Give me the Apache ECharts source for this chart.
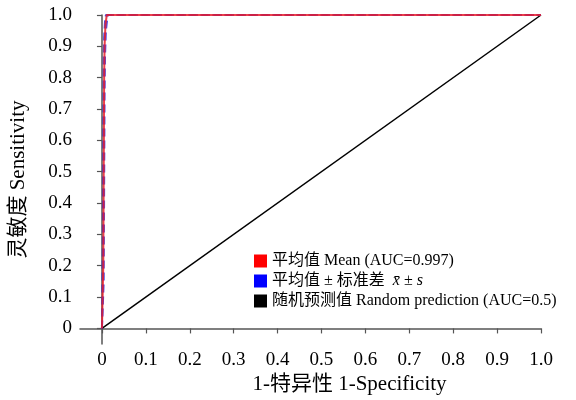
<!DOCTYPE html>
<html>
<head>
<meta charset="utf-8">
<script src="https://cdn.jsdelivr.net/npm/echarts@6/dist/echarts.min.js"></script>
<style>
  html, body { margin: 0; padding: 0; background: #fff; }
  #chart { width: 576px; height: 400px; }
</style>
</head>
<body>
<div id="chart"></div>
<script>
// ROC data
var ticks = [0, 0.1, 0.2, 0.3, 0.4, 0.5, 0.6, 0.7, 0.8, 0.9, 1.0]

var meanFpr = [0, 0.003, 0.004, 0.005, 0.006, 0.008, 0.011, 1.0]
var meanTpr = [0, 0.2, 0.5, 0.8, 0.9, 0.97, 1.0, 1.0]

var upperFpr = [0, 0.002, 0.003, 0.004, 0.005, 0.007, 0.009, 1.0]
var upperTpr = [0, 0.25, 0.55, 0.85, 0.93, 0.98, 1.0, 1.0]

var lowerFpr = [0, 0.004, 0.005, 0.006, 0.007, 0.009, 0.013, 1.0]
var lowerTpr = [0, 0.15, 0.45, 0.75, 0.87, 0.95, 1.0, 1.0]

var randFpr = [0, 1]
var randTpr = [0, 1]

var names = ['平均值 Mean (AUC=0.997)', '平均值 ± 标准差', '随机预测值 Random prediction (AUC=0.5)']

var font = "'Liberation Serif', 'Noto Sans CJK SC', serif"

function pairs(xs, ys) {
  return xs.map(function (x, i) { return [x, ys[i]] })
}

function fmt(v) {
  return v === 0 ? '0' : v.toFixed(1)
}

var axisCommon = {
  type: 'value',
  min: -0.05,
  max: 1,
  splitLine: { show: false },
  axisLine: { show: true, lineStyle: { color: '#555', width: 1.5 } },
  axisTick: { show: true, customValues: ticks, length: 5, lineStyle: { color: '#555', width: 1.2 } },
  axisLabel: { customValues: ticks, formatter: fmt, color: '#000', fontFamily: font, fontSize: 19, margin: 8 },
  nameLocation: 'middle',
  nameTextStyle: { color: '#000', fontFamily: font, fontSize: 21 }
}

var chart = echarts.init(document.getElementById('chart'))
chart.setOption({
  animation: false,
  grid: { left: 79, right: 35, top: 15, bottom: 55 },
  xAxis: Object.assign({}, axisCommon, {
    name: '1-特异性 1-Specificity',
    nameGap: 29,
    axisLabel: Object.assign({}, axisCommon.axisLabel, { margin: 6 }),
    nameTextStyle: { color: '#000', fontFamily: font, fontSize: 21, padding: [0, 0, 0, 78] }
  }),
  yAxis: Object.assign({}, axisCommon, {
    name: '灵敏度 Sensitivity',
    nameGap: 51
  }),
  legend: {
    orient: 'vertical',
    left: 249,
    top: 248,
    itemGap: 4,
    itemWidth: 13,
    itemHeight: 13,
    icon: 'rect',
    data: names,
    textStyle: {
      color: '#000', fontFamily: font, fontSize: 16,
      rich: { it: { fontStyle: 'italic', fontFamily: font, fontSize: 16, color: '#000' } }
    },
    formatter: function (n) {
      if (n === names[1]) return n + '  {it|x̄} ± {it|s}'
      return n
    }
  },
  series: [
    {
      name: names[2], type: 'line', showSymbol: false, z: 1,
      itemStyle: { color: '#000' },
      lineStyle: { color: '#000', width: 1.5 },
      data: pairs(randFpr, randTpr)
    },
    {
      name: names[1], type: 'line', showSymbol: false, z: 2,
      itemStyle: { color: '#0000ff' },
      lineStyle: { color: '#2020e0', width: 2, type: 'dashed', opacity: 0.8 },
      data: pairs(upperFpr, upperTpr)
    },
    {
      name: names[1], type: 'line', showSymbol: false, z: 2,
      itemStyle: { color: '#0000ff' },
      lineStyle: { color: '#2020e0', width: 2, type: 'dashed', opacity: 0.8 },
      data: pairs(lowerFpr, lowerTpr)
    },
    {
      name: names[0], type: 'line', showSymbol: false, z: 3,
      itemStyle: { color: '#ff0000' },
      lineStyle: { color: '#e8202c', width: 2, opacity: 0.85 },
      data: pairs(meanFpr, meanTpr)
    }
  ]
})
</script>
</body>
</html>
